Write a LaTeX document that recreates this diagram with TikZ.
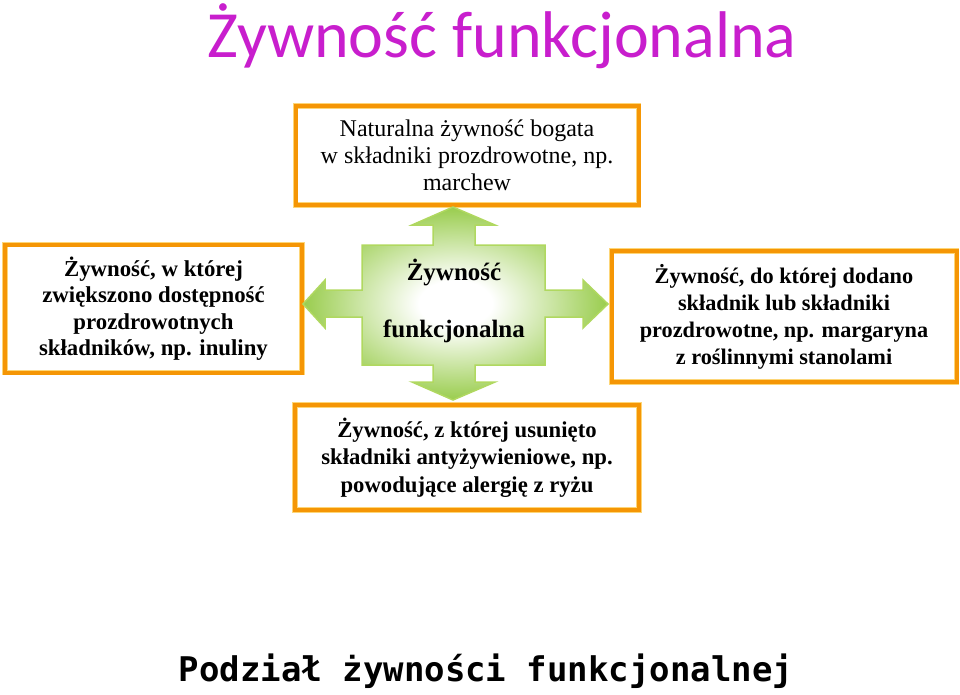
\documentclass[tikz,border=0pt]{standalone}
\usepackage{fontspec}
\setmainfont{Liberation Serif}
\newfontfamily\titlefont{Carlito}
\newfontfamily\subtitlefont{DejaVu Sans Mono}
\definecolor{boxorange}{RGB}{245,150,5}
\definecolor{boxlight}{RGB}{253,214,120}
\definecolor{crossgreen}{RGB}{132,194,40}
\definecolor{crossedge}{RGB}{176,216,96}
\definecolor{titlepink}{RGB}{200,30,205}
\pgfdeclareradialshading{crossglow}{\pgfpoint{0bp}{0bp}}{color(0bp)=(white); color(6bp)=(white); color(29bp)=(crossgreen); color(50bp)=(crossgreen)}

\begin{document}
\begin{tikzpicture}[x=1pt, y=-1pt,
			infobox/.style={draw=boxlight, double=boxorange, double distance=4pt, line width=0.9pt, fill=white, align=center, inner sep=0pt, font=\fontsize{22.8}{26.5}\selectfont\bfseries},
			crosstext/.style={font=\fontsize{25}{30}\selectfont\bfseries}
		]
		\useasboundingbox (0,0) rectangle (960,694);

		\node[titlepink, font=\titlefont\fontsize{66}{70}\selectfont] (title) at (502,36) {Żywność funkcjonalna};

		\node[infobox, minimum width=343, minimum height=99, font=\fontsize{24}{27}\selectfont] (natural) at (467,155.5) {Naturalna żywność bogata\\w składniki prozdrowotne, np.\\marchew};
		\node[infobox, minimum width=297, minimum height=128] (enriched) at (153.5,308.5) {Żywność, w której\\zwiększono dostępność\\prozdrowotnych\\składników, np. inuliny};
		\node[infobox, minimum width=345, minimum height=131, font=\fontsize{22.3}{27}\selectfont\bfseries] (fortified) at (784,316.5) {Żywność, do której dodano\\składnik lub składniki\\prozdrowotne, np. margaryna\\z roślinnymi stanolami};
		\node[infobox, minimum width=344, minimum height=105, font=\fontsize{22.7}{27.5}\selectfont\bfseries] (reduced) at (467,457.5) {Żywność, z której usunięto\\składniki antyżywieniowe, np.\\powodujące alergię z ryżu};

		\shadedraw[shading=crossglow, draw=crossedge, line width=1.5pt, line join=miter]
			(453,207) -- (495,225) -- (475,225) -- (475,245) -- (545,245) -- (545,290)
			-- (583,290) -- (583,280) -- (608,304) -- (583,328) -- (583,317) -- (545,317)
			-- (545,365) -- (475,365) -- (475,382) -- (495,382) -- (453,400) -- (412,382)
			-- (433,382) -- (433,365) -- (362,365) -- (362,317) -- (325,317) -- (325,328)
			-- (303,304) -- (325,280) -- (325,290) -- (362,290) -- (362,245) -- (433,245)
			-- (433,225) -- (412,225) -- cycle;
		\node[crosstext] (crosstop) at (454,272) {Żywność};
		\node[crosstext] (crossbottom) at (454,331) {funkcjonalna};

		\node[font=\subtitlefont\bfseries\fontsize{34}{40}\selectfont] (subtitle) at (486,671) {Podział żywności funkcjonalnej};
	\end{tikzpicture}
\end{document}
